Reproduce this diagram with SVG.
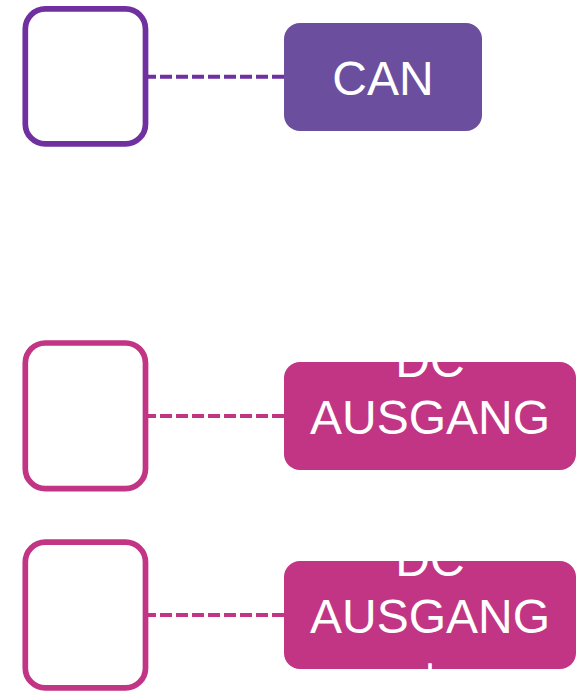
<svg xmlns="http://www.w3.org/2000/svg" width="579" height="691" viewBox="0 0 579 691">
<style>
.frame{fill:#fff;stroke-width:5.700}
.label{fill:#fff;font-family:"Liberation Sans",Arial,sans-serif;font-size:48px;text-anchor:middle}
.conn{fill:none;stroke-width:4;stroke-dasharray:12 4}
.purple{stroke:#7030a0}
.pink{stroke:#c13584}
</style>
<defs>
<clipPath id="c2"><rect x="284" y="362" width="292" height="108" rx="16"/></clipPath>
<clipPath id="c3"><rect x="284" y="561" width="292" height="108" rx="16"/></clipPath>
</defs>
<rect width="579" height="691" fill="#fff"/>
<g id="connectors">
<path class="conn purple" d="M144 76.700H284"/>
<path class="conn pink" d="M144 416H284"/>
<path class="conn pink" d="M144 615H284"/>
</g>
<g id="frame1"><rect class="frame purple" x="25.300" y="8.900" width="120.200" height="135" rx="20"/></g>
<g id="frame2"><rect class="frame pink" x="25.300" y="343" width="120.200" height="145.700" rx="20"/></g>
<g id="frame3"><rect class="frame pink" x="25.300" y="542.200" width="120.200" height="145.700" rx="20"/></g>
<g id="can"><rect x="284" y="23" width="198" height="108" rx="16" fill="#6b4f9e"/><text class="label" x="383" y="95">CAN</text></g>
<g id="dc1"><rect x="284" y="362" width="292" height="108" rx="16" fill="#c13584"/>
<g clip-path="url(#c2)"><text class="label" x="430" y="376.500">DC</text><text class="label" x="430" y="433.500">AUSGANG</text></g></g>
<g id="dc2"><rect x="284" y="561" width="292" height="108" rx="16" fill="#c13584"/>
<g clip-path="url(#c3)"><text class="label" x="430" y="575.500">DC</text><text class="label" x="430" y="632.500">AUSGANG</text><text class="label" x="430" y="690.500">+</text></g></g>
</svg>
